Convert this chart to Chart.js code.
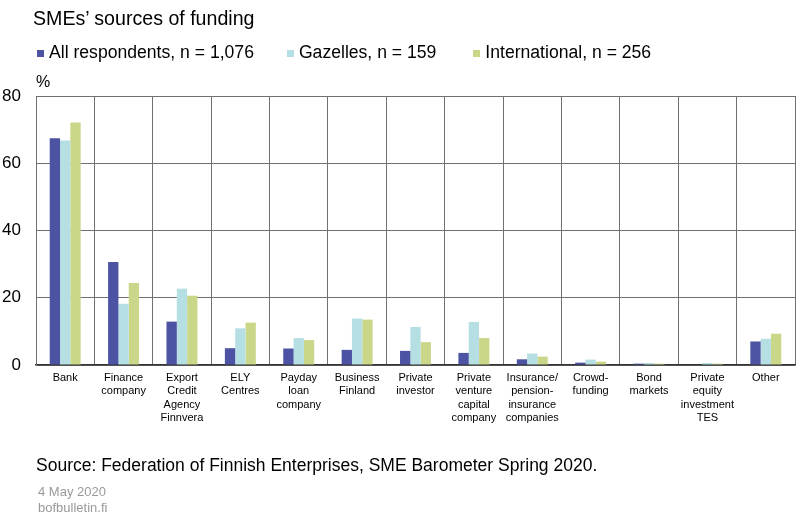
<!DOCTYPE html>
<html><head><meta charset="utf-8">
<script src="https://cdn.jsdelivr.net/npm/chart.js@4"></script>
<style>
html,body{margin:0;padding:0;background:#fff;width:800px;height:523px;overflow:hidden;font-family:"Liberation Sans",Arial,sans-serif;}
#wrap{position:relative;width:800px;height:523px;}
canvas{position:absolute;left:0;top:0;}
.t{position:absolute;white-space:nowrap;color:#000;}
.sq{display:inline-block;width:7px;height:7px;margin-right:5px;vertical-align:1px;}
</style></head>
<body><div id="wrap">
<canvas id="c" width="800" height="523"></canvas>
<div class="t" style="left:33px;top:7px;font-size:19.6px;">SMEs’ sources of funding</div>
<div class="t" id="legend" style="left:35px;top:42px;font-size:17.6px;"></div>
<div class="t" style="left:36px;top:73px;font-size:16px;">%</div>
<div class="t" style="left:36px;top:455px;font-size:17.5px;">Source: Federation of Finnish Enterprises, SME Barometer Spring 2020.</div>
<div class="t" style="left:38px;top:484px;font-size:13px;color:#999;line-height:16px;">4 May 2020<br>bofbulletin.fi</div>
</div>
<script>
const categories = [
  ["Bank"], ["Finance","company"], ["Export","Credit","Agency","Finnvera"], ["ELY","Centres"],
  ["Payday","loan","company"], ["Business","Finland"], ["Private","investor"],
  ["Private","venture","capital","company"], ["Insurance/","pension-","insurance","companies"],
  ["Crowd-","funding"], ["Bond","markets"], ["Private","equity","investment","TES"], ["Other"]
];
const seriesNames = ["All respondents, n = 1,076", "Gazelles, n = 159", "International, n = 256"];
const allRespondents = [67.4, 30.6, 12.9, 5.0, 4.9, 4.5, 4.2, 3.6, 1.7, 0.7, 0.4, 0.0, 7.0];
const gazelles       = [66.8, 18.2, 22.7, 10.9, 8.0, 13.8, 11.3, 12.8, 3.4, 1.6, 0.6, 0.6, 7.8];
const international  = [72.1, 24.4, 20.6, 12.6, 7.4, 13.5, 6.8, 8.0, 2.5, 1.0, 0.4, 0.4, 9.3];
const yTicks = [0, 20, 40, 60, 80];
const colors = ["#4B53A2", "#B6DFE3", "#CAD789"];

const legend = document.getElementById('legend');
const gaps = [2, 33, 37];
seriesNames.forEach((n, i) => {
  const s = document.createElement('span');
  s.style.marginLeft = gaps[i] + 'px';
  s.innerHTML = '<span class="sq" style="background:' + colors[i] + '"></span>' + n;
  legend.appendChild(s);
});

new Chart(document.getElementById('c'), {
  type: 'bar',
  data: {
    labels: categories,
    datasets: [allRespondents, gazelles, international].map((d, i) => ({
      label: seriesNames[i], data: d, backgroundColor: colors[i],
      categoryPercentage: 0.53, barPercentage: 1.0, borderWidth: 0
    }))
  },
  options: {
    responsive: false, animation: false,
    devicePixelRatio: 1,
    layout: { padding: { top: 96, right: 5, left: 0, bottom: 0 } },
    plugins: { legend: { display: false }, title: { display: false }, tooltip: { enabled: false } },
    scales: {
      x: {
        offset: true,
        grid: { color: '#707070', lineWidth: 1, offset: true, drawTicks: false },
        border: { color: '#333', width: 1.5 },
        ticks: { color: '#000', font: { family: 'Liberation Sans', size: 11, lineHeight: 1.22 }, padding: 6, maxRotation: 0, autoSkip: false },
        afterFit: s => { s.height = 158; }
      },
      y: {
        min: 0, max: 80,
        afterBuildTicks: s => { s.ticks = yTicks.map(v => ({ value: v })); },
        grid: { color: '#707070', lineWidth: 1, drawTicks: false },
        border: { color: '#707070', width: 1 },
        ticks: { color: '#000', font: { family: 'Liberation Sans', size: 17 }, padding: 15 },
        afterFit: s => { s.width = 36; }
      }
    }
  }
});
</script>
</body></html>
